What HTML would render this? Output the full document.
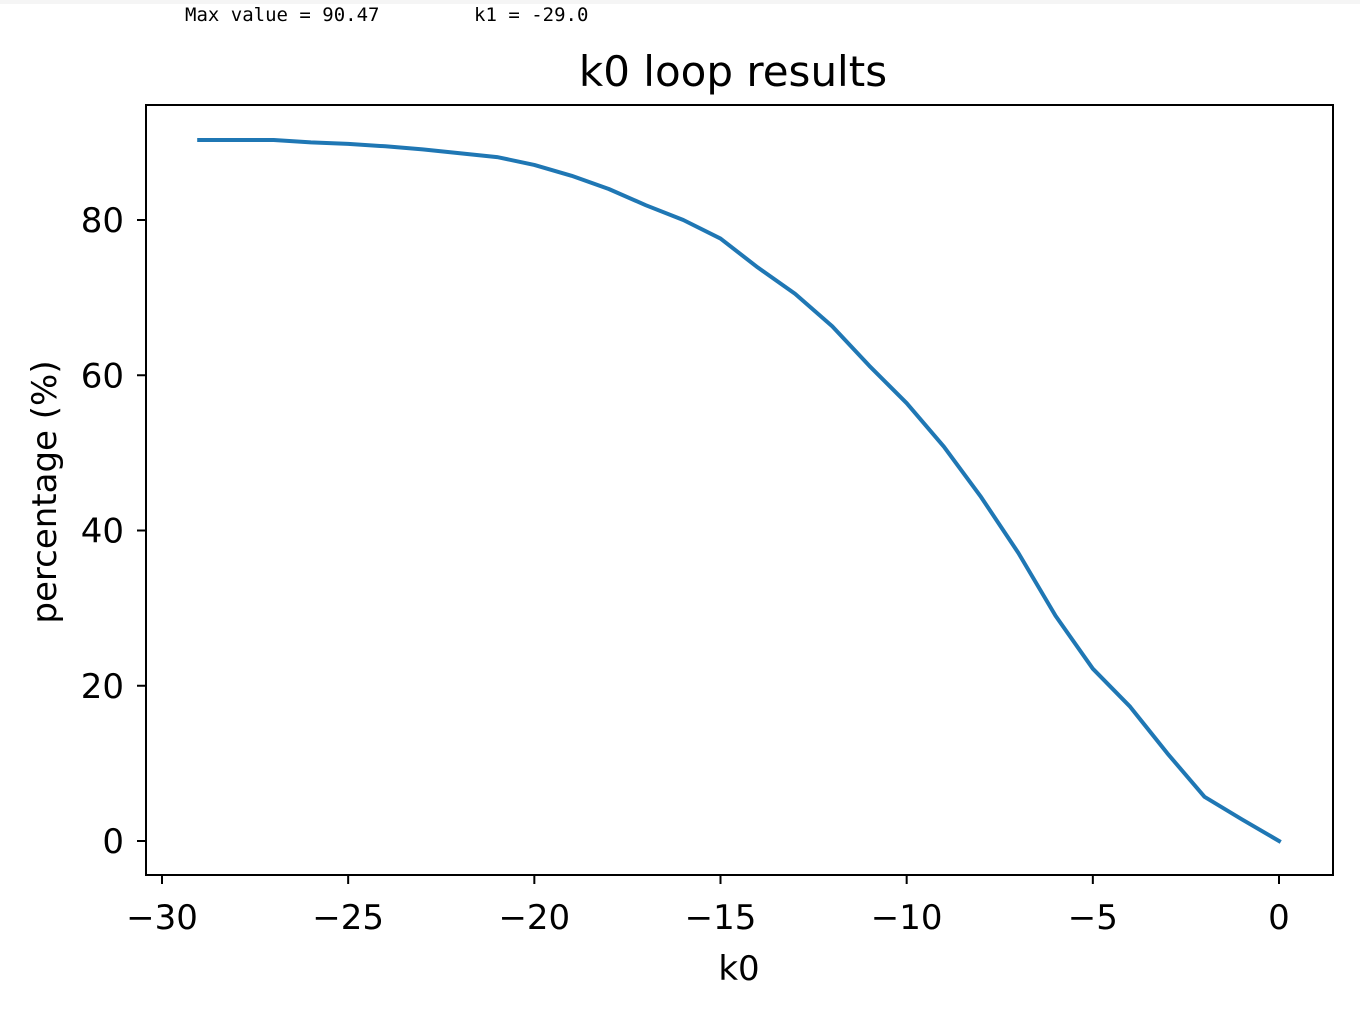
<!DOCTYPE html>
<html><head><meta charset="utf-8"><style>
body{margin:0;background:#fff;width:1360px;height:1009px;overflow:hidden}
svg{display:block}
text{font-family:"DejaVu Sans","Liberation Sans",sans-serif;fill:#000}
text.mono{font-family:"DejaVu Sans Mono","Liberation Mono",monospace;font-size:19px}
</style></head><body>
<svg id="chart" width="1360" height="1009">
<rect x="0" y="0" width="1360" height="4" fill="#f5f5f5"/>
<text class="mono" x="185" y="21">Max value = 90.47</text>
<text class="mono" x="474" y="21">k1 = -29.0</text>
<text x="733" y="86" font-size="42" text-anchor="middle">k0 loop results</text>
<g id="plot"></g>
</svg>
<script>
const kValues=[-29,-28,-27,-26,-25,-24,-23,-22,-21,-20,-19,-18,-17,-16,-15,-14,-13,-12,-11,-10,-9,-8,-7,-6,-5,-4,-3,-2,-1,0];
const percentages=[90.3,90.3,90.3,90.0,89.8,89.5,89.1,88.6,88.1,87.1,85.7,84.0,81.9,80.0,77.6,73.9,70.5,66.3,61.2,56.4,50.8,44.3,37.1,29.0,22.2,17.3,11.3,5.7,2.8,0];
const xTicks=[-30,-25,-20,-15,-10,-5,0];
const yTicks=[0,20,40,60,80];
const NS="http://www.w3.org/2000/svg";
const g=document.getElementById('plot');
const X=v=>162+(v+30)*(1279-162)/30;
const Y=v=>841-v*(841-220)/80;
function mk(t,a){const e=document.createElementNS(NS,t);for(const k in a)e.setAttribute(k,a[k]);g.appendChild(e);return e;}
const frame=mk('rect',{x:146,y:105,width:1187,height:770,fill:'none',stroke:'#000','stroke-width':2});


xTicks.forEach(v=>{
  const l=mk('line',{x1:X(v),x2:X(v),y1:875,y2:884,stroke:'#000','stroke-width':2});
  
  
  const t=mk('text',{x:X(v),y:929,'font-size':34,'text-anchor':'middle'});
  t.textContent=v<0?'\u2212'+(-v):String(v);
  
  
});
yTicks.forEach(v=>{
  const l=mk('line',{x1:137,x2:146,y1:Y(v),y2:Y(v),stroke:'#000','stroke-width':2});
  
  
  const t=mk('text',{x:124,y:Y(v)+12,'font-size':34,'text-anchor':'end'});
  t.textContent=String(v);
  
  
});
const xl=mk('text',{x:739,y:980,'font-size':34,'text-anchor':'middle'});
xl.textContent='k0';


const yl=mk('text',{x:0,y:0,'font-size':34,'text-anchor':'middle',transform:'translate(56,492) rotate(-90)'});
yl.textContent='percentage (%)';


const pts=kValues.map((k,i)=>X(k).toFixed(1)+','+Y(percentages[i]).toFixed(1)).join(' ');
const line=mk('polyline',{points:pts,fill:'none',stroke:'#1f77b4','stroke-width':4,'stroke-linejoin':'round','stroke-linecap':'square'});


</script>
</body></html>
